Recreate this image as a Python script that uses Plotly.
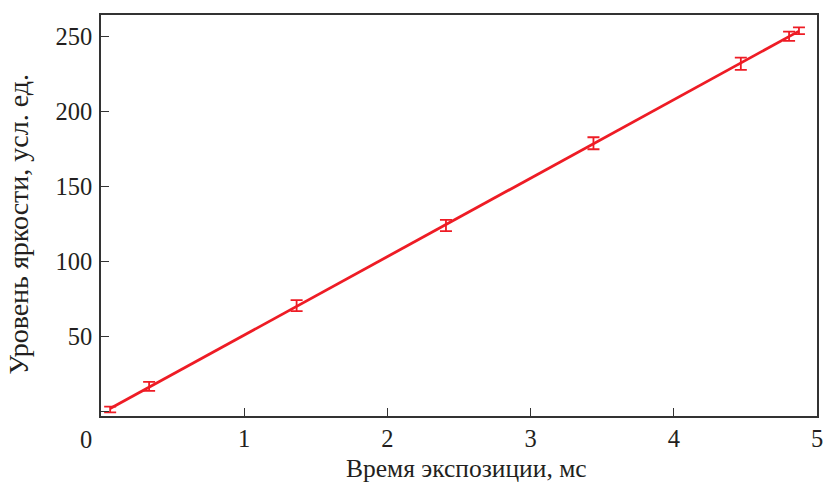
import numpy as np
import plotly.graph_objects as go

# Data
exposure_ms = [0.064, 0.336, 1.366, 2.409, 3.439, 4.468, 4.805, 4.874]
brightness = [1.0, 16.5, 70.3, 123.7, 178.5, 231.5, 249.8, 253.5]
brightness_err = [1.9, 3.0, 3.7, 3.7, 4.0, 4.1, 3.1, 2.3]

x_ticks = [1, 2, 3, 4, 5]
y_ticks = [0, 50, 100, 150, 200, 250]
y_tick_text = ["", "50", "100", "150", "200", "250"]

x_title = "Время экспозиции, мс"
y_title = "Уровень яркости, усл. ед."

RED = "#ee1c25"
FONT = "Liberation Serif"
TXT = "#231f20"
FS = 24.5

# linear fit line
k, b = np.polyfit(exposure_ms, brightness, 1)
fit_x = [min(exposure_ms), max(exposure_ms)]
fit_y = [k * v + b for v in fit_x]

fig = go.Figure()
fig.add_trace(go.Scatter(
    x=exposure_ms, y=brightness, mode="markers",
    marker=dict(size=1, color="rgba(0,0,0,0)"),
    error_y=dict(type="data", array=brightness_err, color=RED, thickness=1.8, width=6),
    showlegend=False,
))
fig.add_trace(go.Scatter(
    x=fit_x, y=fit_y, mode="lines",
    line=dict(color=RED, width=2.8), showlegend=False,
))

axis_common = dict(
    showgrid=False, zeroline=False, showline=True, linecolor="#333333",
    linewidth=1.5, mirror=True, ticks="inside", tickcolor="#333333",
    tickwidth=1.3, ticklen=8,
    tickfont=dict(family=FONT, size=FS, color=TXT),
)

fig.update_layout(
    width=829, height=482,
    margin=dict(l=101, r=6, t=15, b=66),
    paper_bgcolor="white", plot_bgcolor="white",
    xaxis=dict(range=[0, 5], tickvals=x_ticks, ticktext=[str(v) for v in x_ticks], **axis_common),
    yaxis=dict(range=[-3.3, 264], tickvals=y_ticks, ticktext=y_tick_text,
               ticklabelstandoff=2, **axis_common),
    annotations=[
        dict(text="0", x=0, y=0, xref="paper", yref="paper", xanchor="center", yanchor="top",
             xshift=-15, yshift=-8, showarrow=False,
             font=dict(family=FONT, size=FS, color=TXT)),
        dict(text=x_title, x=0.51, y=0, xref="paper", yref="paper", xanchor="center", yanchor="top",
             yshift=-36, showarrow=False,
             font=dict(family=FONT, size=25.5, color=TXT)),
        dict(text=y_title, x=0, y=0.477, xref="paper", yref="paper", xanchor="center", yanchor="middle",
             xshift=-82, textangle=-90, showarrow=False,
             font=dict(family=FONT, size=28, color=TXT)),
    ],
)

fig.write_html("out.html")
